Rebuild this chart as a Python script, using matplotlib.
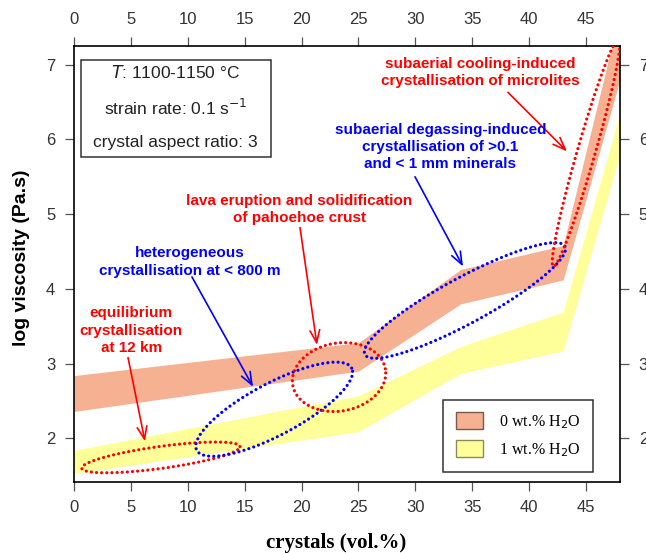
import numpy as np
import matplotlib
matplotlib.use('Agg')
import matplotlib.pyplot as plt
from matplotlib.patches import Patch, Rectangle

# band outlines (log viscosity vs crystal content)
crystals = [0, 25, 34, 43, 48]
dryLow = [2.36, 2.90, 3.80, 4.12, 6.80]
dryHigh = [2.84, 3.28, 4.26, 4.58, 7.70]
wetLow = [1.53, 2.09, 2.87, 3.17, 5.80]
wetHigh = [1.84, 2.57, 3.23, 3.69, 6.35]
bandLabels = ['0 wt.% H$_2$O', '1 wt.% H$_2$O']

# dotted ellipses: long axis ends, half width in pixels
ellStart = [(0.68, 1.60), (10.79, 1.84), (19.23, 2.71), (25.58, 3.12), (42.14, 4.30)]
ellEnd = [(14.59, 1.89), (24.41, 2.94), (27.37, 2.93), (43.16, 4.57), (47.9, 7.35)]
ellHalfWidth = [11, 26, 34, 23, 9]
ellColor = ['#ff0000', '#0000ff', '#ff0000', '#0000ff', '#ff0000']

# annotations
noteText = ['subaerial cooling-induced\ncrystallisation of microlites',
            'subaerial degassing-induced\ncrystallisation of >0.1\nand < 1 mm minerals',
            'lava eruption and solidification\nof pahoehoe crust',
            'heterogeneous\ncrystallisation at < 800 m',
            'equilibrium\ncrystallisation\nat 12 km']
noteXY = [(35.69, 6.90), (32.2, 5.90), (19.80, 5.06), (10.20, 4.36), (5.04, 3.44)]
arrowFrom = [(38.15, 6.63), (29.98, 5.50), (19.87, 4.82), (10.37, 4.16), (4.75, 3.08)]
arrowTo = [(43.34, 5.84), (34.20, 4.30), (21.36, 3.25), (15.74, 2.69), (6.24, 1.96)]
noteColor = ['#ff0000', '#0000ff', '#ff0000', '#0000ff', '#ff0000']

infoLines = ['$\\it{T}$: 1100-1150 °C', 'strain rate: 0.1 s$^{-1}$', 'crystal aspect ratio: 3']

W, H = 646, 553
fig = plt.figure(figsize=(W / 100, H / 100), dpi=100)
ax = fig.add_axes([74 / W, 1 - 481.7 / H, (620 - 74) / W, (481.7 - 46) / H])
ax.set_xlim(0, 48)
ax.set_ylim(1.42, 7.25)

ax.fill_between(crystals, dryLow, dryHigh, color='#f6b092', lw=0, zorder=1)
ax.fill_between(crystals, wetLow, wetHigh, color='#ffff99', lw=0, zorder=1)


def drawEllipse(p1, p2, halfWidth, color):
    # build the ellipse in pixel space so it is not skewed by the axis scales
    a1 = ax.transData.transform(p1)
    a2 = ax.transData.transform(p2)
    c = (a1 + a2) / 2
    d = a2 - a1
    semi = np.hypot(d[0], d[1]) / 2
    u = d / (2 * semi)
    n = np.array([-u[1], u[0]])
    t = np.linspace(0, 2 * np.pi, 400)
    pts = c + np.outer(semi * np.cos(t), u) + np.outer(halfWidth * np.sin(t), n)
    pts = ax.transData.inverted().transform(pts)
    ax.plot(pts[:, 0], pts[:, 1], color=color, lw=2.3, ls=(0, (0.01, 1.6)),
            dash_capstyle='round', zorder=3)


for i in range(len(ellStart)):
    drawEllipse(ellStart[i], ellEnd[i], ellHalfWidth[i], ellColor[i])

for i in range(len(noteText)):
    ax.text(noteXY[i][0], noteXY[i][1], noteText[i], color=noteColor[i], ha='center', va='center',
            fontsize=11, fontweight='bold', family='Liberation Sans', linespacing=1.3, zorder=5)
    ax.annotate('', xy=arrowTo[i], xytext=arrowFrom[i],
                arrowprops=dict(arrowstyle='->,head_length=0.9,head_width=0.35', color=noteColor[i],
                                lw=1.2, shrinkA=0, shrinkB=0), zorder=4)

# info box
ax.add_patch(Rectangle((80.7 / W, 1 - 157 / H), 190 / W, 97 / H, transform=fig.transFigure,
                       fill=False, ec='#333333', lw=1.1, zorder=6))
for k, line in enumerate(infoLines):
    fig.text(175.7 / W, 1 - (73 + 34.5 * k) / H, line, ha='center', va='center',
             fontsize=12.5, family='Liberation Sans', color='#222222')

handles = [Patch(fc='#f6b092', ec='#7a5a4a', lw=1.0), Patch(fc='#ffff99', ec='#8a8a5a', lw=1.0)]
leg = ax.legend(handles, bandLabels, loc='lower right', bbox_to_anchor=(0.951, 0.023),
                borderaxespad=0, prop={'family': 'Liberation Serif', 'size': 11.5}, fancybox=False,
                edgecolor='#333333', framealpha=1, handlelength=1.7, handleheight=1.25,
                handletextpad=1.0, labelspacing=0.6, borderpad=0.8)
leg.get_frame().set_linewidth(1.1)
leg.set_zorder(7)

ax.set_xticks(range(0, 46, 5))
ax.set_yticks(range(2, 8))
ax.tick_params(direction='out', length=6.5, width=0.9, color='#555555', labelcolor='#333333',
               labelsize=12, top=True, right=True, labeltop=True, labelright=True)
ax.tick_params(axis='x', pad=7)
ax.tick_params(axis='y', pad=7)
for lab in ax.get_xticklabels() + ax.get_yticklabels():
    lab.set_family('Liberation Sans')
for s in ax.spines.values():
    s.set_linewidth(1.2)

fig.text(21.7 / W, 1 - 258 / H, 'log viscosity (Pa.s)', rotation=90, ha='center', va='center',
         fontsize=14, fontweight='bold', family='Liberation Sans')
fig.text(336.5 / W, 1 - 543 / H, 'crystals (vol.%)', ha='center', va='center',
         fontsize=15, fontweight='bold', family='Liberation Serif')

fig.savefig('out.png', dpi=100)
